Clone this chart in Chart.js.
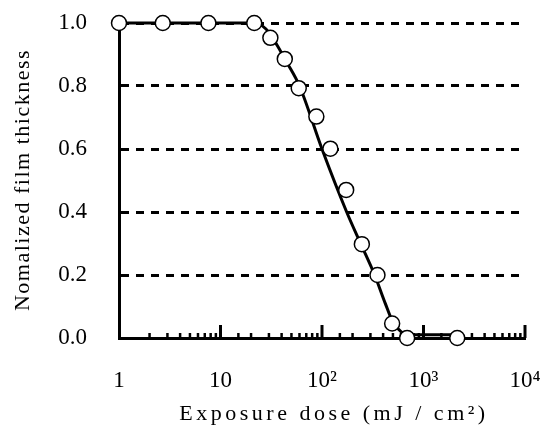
<!DOCTYPE html>
<html>
<head>
<meta charset="utf-8">
<script src="https://cdn.jsdelivr.net/npm/chart.js@4"></script>
<style>
  html, body { margin: 0; padding: 0; background: #fff; }
  canvas { display: block; }
</style>
</head>
<body>
<canvas id="chart" width="542" height="432"></canvas>
<script>
// measured points (exposure dose vs normalized thickness)
const doseData = [1, 2.7, 7.6, 21.5, 31, 43, 59, 88, 121, 173, 247, 352, 491, 690, 2150];
const thicknessData = [1.0, 1.0, 1.0, 1.0, 0.953, 0.886, 0.793, 0.703, 0.601, 0.47, 0.298, 0.2, 0.046, 0.0, 0.0];

// fitted curve
const fitDose = [1, 22, 26, 30, 36, 45, 60, 100, 175, 240, 330, 420, 500, 600, 700, 1000, 2150];
const fitThickness = [1.0, 1.0, 0.99, 0.97, 0.93, 0.875, 0.8, 0.6, 0.4, 0.3, 0.2, 0.11, 0.05, 0.02, 0.01, 0.01, 0.01];

// tick labels
const xTickValues = [1, 10, 100, 1000, 10000];
const xTickLabels = ['1', '10', '10²', '10³', '10⁴'];

const xTitle = 'Exposure dose (mJ / cm²)';
const yTitle = 'Nomalized film thickness';

const serif = '"Liberation Serif", "Times New Roman", serif';

function isDecade(v) {
  const l = Math.log10(v);
  return Math.abs(l - Math.round(l)) < 1e-6;
}

// tick marks pointing up into the plot, long ones on each decade
const innerTicks = {
  id: 'innerTicks',
  beforeDatasetsDraw(chart) {
    const { ctx, chartArea, scales: { x } } = chart;
    ctx.save();
    ctx.strokeStyle = '#000';
    x.ticks.forEach((t) => {
      if (t.value <= 1) return;
      const px = x.getPixelForValue(t.value);
      const major = isDecade(t.value);
      ctx.lineWidth = major ? 3 : 2.5;
      ctx.beginPath();
      ctx.moveTo(px, chartArea.bottom);
      ctx.lineTo(px, chartArea.bottom - (major ? 13 : 5));
      ctx.stroke();
    });
    ctx.restore();
  }
};

// axis titles with some letter spacing
const spacedTitles = {
  id: 'spacedTitles',
  afterDraw(chart) {
    const { ctx, chartArea } = chart;
    ctx.save();
    ctx.fillStyle = '#000';
    ctx.font = '22px ' + serif;
    ctx.textAlign = 'center';
    ctx.textBaseline = 'middle';
    ctx.letterSpacing = '3.5px';
    ctx.fillText(xTitle, (chartArea.left + chartArea.right) / 2 + 12, 414);
    ctx.translate(23, 180);
    ctx.rotate(-Math.PI / 2);
    ctx.letterSpacing = '1.5px';
    ctx.fillText(yTitle, 0, 0);
    ctx.restore();
  }
};

new Chart(document.getElementById('chart'), {
  type: 'line',
  data: {
    datasets: [
      {
        data: doseData.map((d, i) => ({ x: d, y: thicknessData[i] })),
        showLine: false,
        pointRadius: 7.5,
        pointBackgroundColor: '#fff',
        pointBorderColor: '#000',
        pointBorderWidth: 1.5,
        clip: false,
        order: 0
      },
      {
        data: fitDose.map((d, i) => ({ x: d, y: fitThickness[i] })),
        borderColor: '#000',
        borderWidth: 3,
        pointRadius: 0,
        cubicInterpolationMode: 'monotone',
        clip: false,
        order: 1
      }
    ]
  },
  options: {
    responsive: false,
    animation: false,
    devicePixelRatio: 1,
    layout: { padding: { top: 23, right: 17, left: 0, bottom: 0 } },
    plugins: {
      legend: { display: false },
      tooltip: { enabled: false }
    },
    scales: {
      x: {
        type: 'logarithmic',
        min: 1,
        max: 10000,
        afterFit: (s) => { s.height = 94; s.paddingLeft = 0; s.paddingRight = 0; },
        grid: { display: false, drawTicks: false },
        border: { display: true, color: '#000', width: 3 },
        ticks: {
          autoSkip: false,
          maxRotation: 0,
          padding: 29,
          color: '#000',
          font: { family: serif, size: 23 },
          callback: (v) => {
            const i = xTickValues.findIndex((t) => Math.abs(t - v) < 1e-6 * t);
            return i >= 0 ? xTickLabels[i] : '';
          }
        }
      },
      y: {
        min: 0,
        max: 1,
        afterFit: (s) => { s.width = 119; s.paddingTop = 0; s.paddingBottom = 0; },
        grid: {
          drawTicks: false,
          lineWidth: 3,
          color: (c) => (c.tick && c.tick.value < 0.01 ? 'rgba(0,0,0,0)' : '#000')
        },
        border: { display: true, color: '#000', width: 3, dash: [8, 7] },
        ticks: {
          stepSize: 0.2,
          padding: 32,
          color: '#000',
          font: { family: serif, size: 23 },
          callback: (v) => v.toFixed(1)
        }
      }
    }
  },
  plugins: [innerTicks, spacedTitles]
});
</script>
</body>
</html>
